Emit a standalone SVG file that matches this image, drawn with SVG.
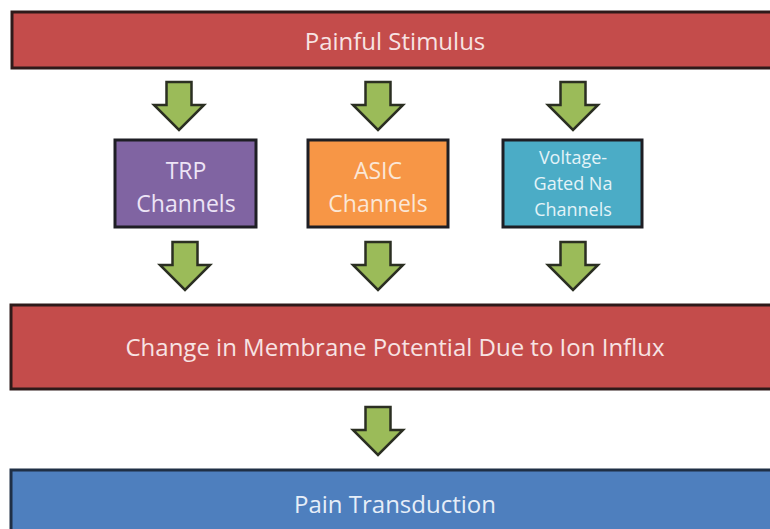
<svg xmlns="http://www.w3.org/2000/svg" width="770" height="529" viewBox="0 0 770 529">
  <style>
    .bar { stroke: #2e1a1a; stroke-width: 3; }
    .red { fill: #C44C4B; }
    .blue { fill: #4E7FBE; stroke: #1f2f45; stroke-width: 3; }
    .box { stroke: #1e1e24; stroke-width: 3; }
    .lbl { font-family: "Open Sans", Lato, "Liberation Sans", sans-serif; text-anchor: middle; }
    .big { font-size: 24px; }
    .mid { font-size: 23px; }
    .small { font-size: 18px; }
    .arrow { fill: #9BBB59; stroke: #2b2f22; stroke-width: 2.5; stroke-linejoin: miter; }
  </style>
  <defs>
    <path id="arr" d="M -12.5 0 L 12.5 0 L 12.5 23 L 25 23 L 0 48 L -25 23 L -12.5 23 Z"/>
  </defs>
  <rect width="770" height="529" fill="#ffffff"/>

  <g id="painful-stimulus">
    <rect class="bar red" x="12" y="12" width="780" height="56"/>
    <text class="lbl big" x="395" y="50" fill="#F7E3E3">Painful Stimulus</text>
  </g>

  <g id="trp-channels">
    <rect class="box" x="115" y="140" width="141" height="87" fill="#8064A2"/>
    <text class="lbl mid" x="186" y="179" fill="#EDE4F6">TRP</text>
    <text class="lbl mid" x="186" y="212" fill="#EDE4F6">Channels</text>
  </g>

  <g id="asic-channels">
    <rect class="box" x="308" y="140" width="140" height="87" fill="#F79646"/>
    <text class="lbl mid" x="378" y="179" fill="#FBE7D6">ASIC</text>
    <text class="lbl mid" x="378" y="212" fill="#FBE7D6">Channels</text>
  </g>

  <g id="voltage-gated-na-channels">
    <rect class="box" x="503" y="140" width="139" height="87" fill="#4BACC6"/>
    <text class="lbl small" x="573" y="164" fill="#E3F3F8">Voltage-</text>
    <text class="lbl small" x="573" y="190" fill="#E3F3F8">Gated Na</text>
    <text class="lbl small" x="573" y="216" fill="#E3F3F8">Channels</text>
  </g>

  <g id="membrane-potential">
    <rect class="bar red" x="11" y="305" width="780" height="84"/>
    <text class="lbl big" x="395" y="356" fill="#F7E3E3">Change in Membrane Potential Due to Ion Influx</text>
  </g>

  <g id="pain-transduction">
    <rect class="blue" x="11" y="470" width="780" height="80"/>
    <text class="lbl big" x="395" y="513" fill="#E6EEF8">Pain Transduction</text>
  </g>

  <g id="connectors">
    <use href="#arr" class="arrow" x="179" y="82"/>
    <use href="#arr" class="arrow" x="378" y="82"/>
    <use href="#arr" class="arrow" x="573" y="82"/>
    <use href="#arr" class="arrow" x="185" y="242"/>
    <use href="#arr" class="arrow" x="378" y="242"/>
    <use href="#arr" class="arrow" x="573" y="242"/>
    <use href="#arr" class="arrow" x="378" y="407"/>
  </g>
</svg>
